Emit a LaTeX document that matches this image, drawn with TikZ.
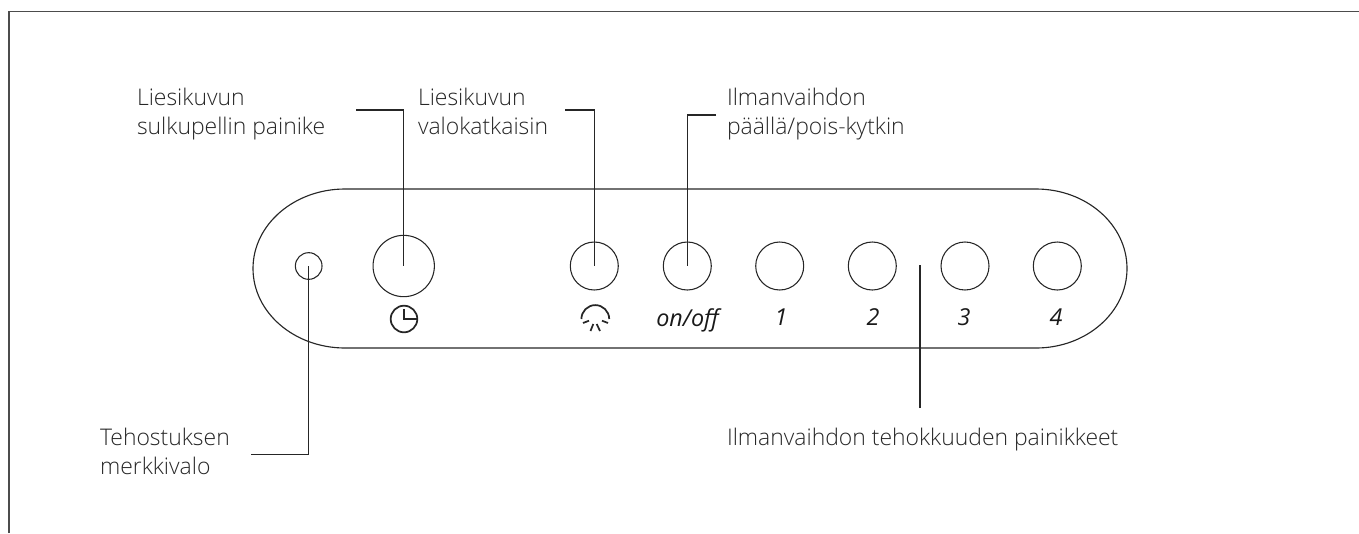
\documentclass[tikz,border=0pt]{standalone}
\usepackage{fontspec}
\setmainfont{Open Sans Light}
\newfontfamily\digitfont[ItalicFont={Open Sans Italic}]{Open Sans}
\definecolor{ink}{gray}{0.15}
\tikzset{
  x=0.75pt,y=-0.75pt,
  leader/.style={draw=ink,line width=0.9pt},
  framebox/.style={draw=black!70,line width=1.1pt},
  panel/.style={draw=ink,line width=0.85pt},
  lab/.style={anchor=base west,inner sep=0,outer sep=0,font=\fontsize{17.2}{18}\selectfont,text=ink},
  btn/.style={circle,draw=ink,line width=0.8pt,inner sep=0,outer sep=0,minimum size=36pt},
  bigbtn/.style={btn,minimum size=46pt},
  led/.style={btn,minimum size=20pt},
  digit/.style={inner sep=0,outer sep=0,anchor=base,font=\digitfont\fontsize{17.5}{18}\selectfont\itshape,text=black!90},
  icon/.style={draw=ink,line width=1.3pt},
}
\begin{document}
\begin{tikzpicture}
\useasboundingbox (0,0) rectangle (1359,533);
\draw[framebox] (9,533) -- (9,11.5) -- (1359,11.5);
\draw[panel] (345,189) -- (1036,189) arc[start angle=-90,end angle=90,x radius=91,y radius=79.5] -- (345,348) arc[start angle=90,end angle=270,x radius=92,y radius=79.5] -- cycle;
% buttons
\node[led] (ledlamp) at (308.7,266) {};
\node[bigbtn] (damper) at (403.7,266) {};
\node[btn] (lamp) at (594.3,266) {};
\node[btn] (onoff) at (687.3,266) {};
\node[btn] (one) at (779.7,266) {};
\node[btn] (two) at (872.3,266) {};
\node[btn] (three) at (965,266) {};
\node[btn] (four) at (1057.3,266) {};
% button captions
\node[digit] (tonoff) at (687.5,326) {on/off};
\node[digit] (tone) at (781,325.7) {1};
\node[digit] (ttwo) at (873,325.7) {2};
\node[digit] (tthree) at (964,325.7) {3};
\node[digit] (tfour) at (1056,325.7) {4};
% clock icon
\draw[icon] (404,319) circle[radius=13.3];
\draw[icon] (404,309.3) -- (404,319) -- (416.7,319);
% lamp icon
\draw[icon] (581.4,319) arc[start angle=180,end angle=360,radius=13.9];
\draw[icon] (583,323) -- (589,320.7);
\draw[icon] (590.5,331) -- (593.3,324);
\draw[icon] (600,331) -- (596.7,324);
\draw[icon] (608,323) -- (602,320.7);
% labels
\node[lab] (ldamper) at (137,105) {Liesikuvun};
\node[lab] (ldamperb) at (137,134) {sulkupellin painike};
\node[lab] (llamp) at (418,105) {Liesikuvun};
\node[lab] (llampb) at (418,134) {valokatkaisin};
\node[lab] (lfan) at (727,105) {Ilmanvaihdon};
\node[lab] (lfanb) at (727,134) {päällä/pois-kytkin};
\node[lab] (lled) at (100,445) {Tehostuksen};
\node[lab] (lledb) at (100,474) {merkkivalo};
\node[lab] (lspeed) at (727,445) {Ilmanvaihdon tehokkuuden painikkeet};
% leaders
\coordinate (a0) at (356,110);
\coordinate (b0) at (565,110);
\coordinate (c0) at (716,115);
\coordinate (d0) at (251,454.7);
\coordinate (e0) at (920,408);
\coordinate (e1) at (920,265);
\draw[leader] (a0) -| (damper.center);
\draw[leader] (b0) -| (lamp.center);
\draw[leader] (c0) -| (onoff.center);
\draw[leader] (d0) -| (ledlamp.center);
\draw[leader] (e0) -- (e1);
\end{tikzpicture}
\end{document}
